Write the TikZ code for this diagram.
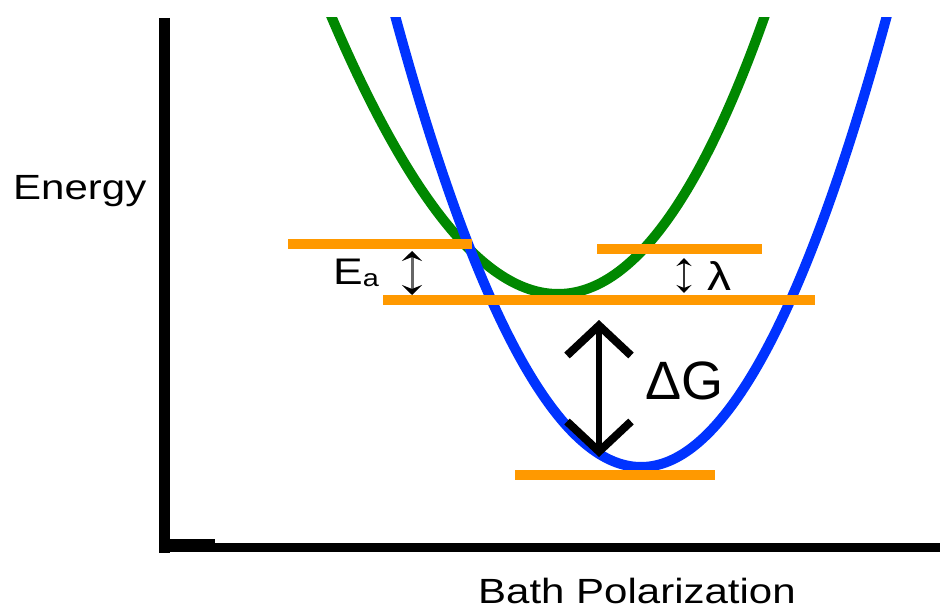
\documentclass[tikz,border=0pt]{standalone}
\usepackage{fontspec}
\setmainfont[FakeStretch=1.2]{Liberation Sans}
\newfontfamily\deltafont{Liberation Sans}
\usetikzlibrary{arrows.meta}
\definecolor{levelorange}{RGB}{255,153,0}
\definecolor{curveblue}{RGB}{0,51,255}
\definecolor{curvegreen}{RGB}{0,136,0}
\begin{document}
\begin{tikzpicture}[x=1pt,y=-1pt]
    \tikzset{
    axis/.style={line width=11pt},
    level/.style={draw=levelorange, line width=10pt},
    surface/.style={line width=10pt, domain=-1.03:1.03, samples=150},
    label/.style={inner sep=0pt, anchor=base west, font=\fontsize{35}{40}\selectfont},
    gap/.style={line width=3pt, black!60, {Stealth[length=10pt,width=20pt,inset=4pt,black]}-{Stealth[length=10pt,width=20pt,inset=4pt,black]}},
    smallgap/.style={line width=2.5pt, black!80, {Stealth[length=8pt,width=15pt,inset=3pt,black]}-{Stealth[length=8pt,width=15pt,inset=3pt,black]}},
    bigarc/.style={line width=6pt, {Straight Barb[length=30pt,width=64pt,line width=8pt]}-{Straight Barb[length=30pt,width=64pt,line width=8pt]}}
    }
    \useasboundingbox (0,0) rectangle (940,610);

    % axes
    \draw[axis] (164,18) -- (164,553);
    \draw[line width=9pt] (159,547.5) -- (940,547.5);
    \fill (159,539) rectangle (215,552);

    % free energy surfaces
    \begin{scope}
    \clip (0,18) rectangle (940,610);
    \draw[surface, curvegreen] plot ({548+216*\x+10*(1-\x*\x)}, {294-276*\x*\x});
    \draw[surface, curveblue] plot ({641+245*\x}, {467-448*\x*\x});
    \end{scope}

    \draw[level] (288,244) -- (472,244);
    \draw[level] (597,249) -- (762,249);
    \draw[level] (383,300) -- (815,300);
    \draw[level] (515,474.5) -- (715,474.5);

    \coordinate (eatop) at (412,251);
    \coordinate (eabot) at (412,295);
    \coordinate (lamtop) at (684,258);
    \coordinate (lambot) at (684,293);
    \coordinate (dgtop) at (599,320);
    \coordinate (dgbot) at (599,457);
    \draw[gap] (eatop) -- (eabot);
    \draw[smallgap] (lamtop) -- (lambot);
    \draw[bigarc] (dgtop) -- (dgbot);

    \node[label] (energy) at (13,199) {Energy};
    \node[label] (bath) at (478,603) {Bath Polarization};
    \node[label, font=\fontsize{37}{42}\selectfont] (ea) at (333,284) {E\raisebox{-2pt}{\fontsize{24}{24}\selectfont a}};
    \node[label, font=\fontsize{40}{44}\selectfont] (lambda) at (707,290) {λ};
    \node[label, font=\deltafont\fontsize{54}{60}\selectfont] (dg) at (645,399) {ΔG};
\end{tikzpicture}
\end{document}
